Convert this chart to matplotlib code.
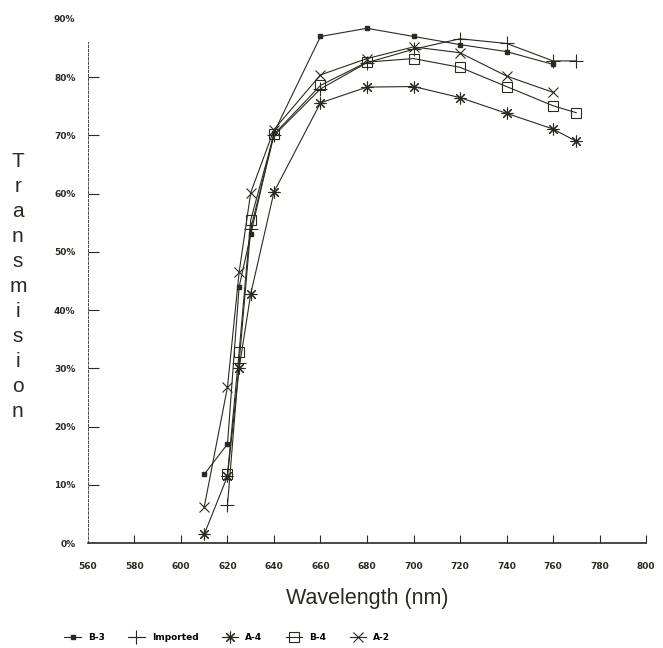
import numpy as np
import matplotlib
matplotlib.use("Agg")
import matplotlib.pyplot as plt
from matplotlib.lines import Line2D

# values (wavelength nm, transmission %)
b3_wl = [610, 620, 625, 630, 640, 660, 680, 700, 720, 740, 760]
b3_tr = [11.8, 17.0, 44.0, 53.0, 70.5, 87.0, 88.4, 87.0, 85.6, 84.4, 82.2]

imp_wl = [620, 625, 630, 640, 660, 680, 700, 720, 740, 760, 770]
imp_tr = [6.5, 31.0, 54.0, 70.0, 78.0, 82.5, 84.8, 86.6, 85.8, 82.8, 82.8]

a4_wl = [610, 620, 625, 630, 640, 660, 680, 700, 720, 740, 760, 770]
a4_tr = [1.5, 11.5, 30.0, 42.8, 60.3, 75.6, 78.3, 78.4, 76.5, 73.8, 71.1, 69.0]

b4_wl = [620, 625, 630, 640, 660, 680, 700, 720, 740, 760, 770]
b4_tr = [11.8, 32.8, 55.5, 70.2, 78.6, 82.6, 83.2, 81.7, 78.4, 75.1, 73.9]

a2_wl = [610, 620, 625, 630, 640, 660, 680, 700, 720, 740, 760]
a2_tr = [6.2, 26.8, 46.5, 60.2, 71.0, 80.4, 83.2, 85.2, 84.2, 80.2, 77.4]

x_ticks = list(range(560, 801, 20))
y_ticks = list(range(0, 91, 10))

ink = "#2a2a22"
helv = ["Liberation Sans", "DejaVu Sans"]

fig = plt.figure(figsize=(6.63, 6.48), dpi=100)
ax = fig.add_axes([0.1327, 0.162, 0.8417, 0.8087])

ms = 8.5
ax.plot(b3_wl, b3_tr, color=ink, lw=0.8, marker="s", ms=2.5, label="B-3")
ax.plot(imp_wl, imp_tr, color=ink, lw=0.8, marker="+", ms=ms + 1, mew=0.8, label="Imported")
ax.plot(a4_wl, a4_tr, color=ink, lw=0.8, marker=(8, 2, 0), ms=ms, mew=0.8, label="A-4")
ax.plot(b4_wl, b4_tr, color=ink, lw=0.8, marker="s", ms=ms - 1.5, mfc="none", mew=0.8, label="B-4")
ax.plot(a2_wl, a2_tr, color=ink, lw=0.8, marker="x", ms=ms - 1, mew=0.8, label="A-2")

ax.set_xlim(560, 800)
ax.set_ylim(0, 90)
ax.set_xticks(x_ticks)
ax.set_yticks(y_ticks)
ax.set_xticklabels([str(v) for v in x_ticks], fontsize=6.5, fontweight="bold")
ax.set_yticklabels([f"{v}%" for v in y_ticks], fontsize=6.5, fontweight="bold")
ax.tick_params(axis="x", direction="in", length=6, width=0.8, pad=14, colors=ink)
ax.tick_params(axis="y", direction="in", length=8, width=0.8, pad=9, colors=ink)
yt = ax.yaxis.get_major_ticks()
yt[0].tick1line.set_visible(False)
yt[-1].tick1line.set_visible(False)
ax.xaxis.get_major_ticks()[0].tick1line.set_visible(False)

for s in ["top", "right"]:
    ax.spines[s].set_visible(False)
ax.spines["left"].set_bounds(0, 86)
ax.spines["left"].set_linewidth(0.6)
ax.spines["left"].set_linestyle((0, (3, 2)))
ax.spines["bottom"].set_linewidth(1.2)
for s in ["left", "bottom"]:
    ax.spines[s].set_color(ink)

ax.set_xlabel("Wavelength (nm)", fontsize=15.5, color=ink, labelpad=12, family=helv)

# stacked vertical label
fig.text(0.027, 0.558, "\n".join("Transmision"), ha="center", va="center",
         fontsize=15, color=ink, linespacing=1.4, family=helv)

handles = [Line2D([], [], color=ink, lw=0.8, marker="s", ms=2.5),
           Line2D([], [], color=ink, lw=0.8, marker="+", ms=ms + 1, mew=0.8),
           Line2D([], [], color=ink, lw=0.8, marker=(8, 2, 0), ms=ms, mew=0.8),
           Line2D([], [], color=ink, lw=0.8, marker="s", ms=ms - 1.5, mfc="none", mew=0.8),
           Line2D([], [], color=ink, lw=0.8, marker="x", ms=ms - 1, mew=0.8)]
labels = ["B-3", "Imported", "A-4", "B-4", "A-2"]
leg = fig.legend(handles, labels, loc="center left", bbox_to_anchor=(0.085, 0.016),
                 ncol=5, frameon=False, handlelength=1.8, columnspacing=2.6,
                 handletextpad=0.8, prop={"size": 6.5, "weight": "bold"})

fig.savefig("out.png", dpi=100, facecolor="white")
